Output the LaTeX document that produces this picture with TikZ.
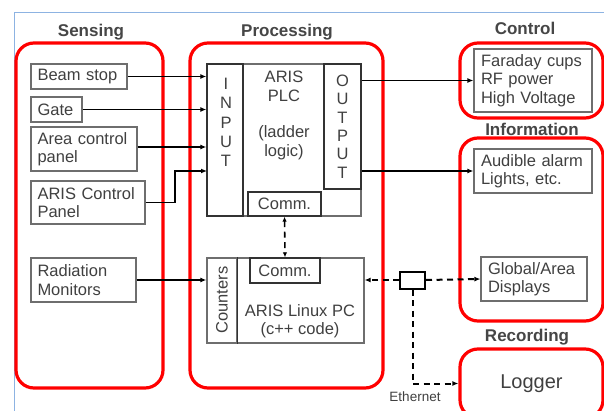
\documentclass[tikz,border=0pt]{standalone}
\usepackage{fontspec}
\setmainfont{Liberation Sans}
\usetikzlibrary{arrows.meta}
\definecolor{framebl}{RGB}{141,179,226}
\definecolor{grpred}{RGB}{255,0,0}
\definecolor{boxgray}{RGB}{110,110,110}
\definecolor{darkbox}{RGB}{50,50,50}
\definecolor{txtgray}{RGB}{64,64,64}
\definecolor{hdrgray}{RGB}{70,70,70}
\begin{document}
\begin{tikzpicture}[x=1pt,y=-1pt,
  redgrp/.style={draw=grpred, line width=3.2pt, rounded corners=18pt, inner sep=0pt},
  hdr/.style={font=\bfseries\fontsize{17}{19}\selectfont, text=hdrgray, inner sep=0pt},
  box/.style={draw=boxgray, line width=1.2pt, text=txtgray, font=\fontsize{16.5}{18.5}\selectfont, inner ysep=0pt, inner xsep=6.5pt, align=left},
  dbox/.style={draw=darkbox, line width=1.4pt, text=txtgray, font=\fontsize{16.5}{18.5}\selectfont, inner sep=0pt, align=center},
  txt/.style={text=txtgray, font=\fontsize{16.5}{18.3}\selectfont, inner sep=0pt, align=center},
  conn/.style={line width=1.8pt, -{Latex[length=6pt,width=5pt]}},
  dconn/.style={line width=2pt, dash pattern=on 6pt off 4.5pt}
]
\useasboundingbox (0,0) rectangle (604,411);
\clip (0,0) rectangle (604,411);
\fill[white] (0,0) rectangle (604,411);
% frame
\draw[framebl, line width=1pt] (14,420) -- (14,13) -- (610,13);

% groups
\node[redgrp, minimum width=147pt, minimum height=345pt] (sensing) at (89.5,215.5) {};
\node[redgrp, minimum width=193pt, minimum height=345pt] (processing) at (286.5,215.5) {};
\node[redgrp, minimum width=143pt, minimum height=75pt] (control) at (531.5,80.5) {};
\node[redgrp, minimum width=143pt, minimum height=183pt] (info) at (531.5,229.5) {};
\node[redgrp, minimum width=143pt, minimum height=69pt, font=\fontsize{20}{22}\selectfont, text=txtgray] (logger) at (531.5,383.5) {Logger};

% headers
\node[hdr] (hsens) at (91,32) {Sensing};
\node[hdr] (hproc) at (287,32) {Processing};
\node[hdr] (hctrl) at (525,28) {Control};
\node[hdr] (hinfo) at (532,129) {Information};
\node[hdr] (hrec) at (527,337) {Recording};

% sensing boxes
\node[box, text width=83pt, minimum height=25pt] (beam) at (79,76.5) {Beam stop};
\node[box, text width=38pt, minimum height=25pt] (gate) at (56.5,109.5) {Gate};
\node[box, text width=93pt, minimum height=44pt] (area) at (84,149) {Area control\\panel};
\node[box, text width=101pt, minimum height=43pt] (ariscp) at (88,202.5) {ARIS Control\\Panel};
\node[box, text width=92pt, minimum height=44pt] (rad) at (83.5,280) {Radiation\\Monitors};

% PLC
\node[draw=boxgray, line width=1.2pt, minimum width=154pt, minimum height=152pt, inner sep=0pt] (plc) at (284,140) {};
\node[dbox, minimum width=36pt, minimum height=152pt] (input) at (225,140) {};
\node[txt, font=\fontsize{16.5}{19.25}\selectfont] (inputtxt) at (226,122.5) {I\\N\\P\\U\\T};
\node[dbox, minimum width=37pt, minimum height=125pt, font=\fontsize{16.5}{18.4}\selectfont] (output) at (342.5,126.5) {O\\U\\T\\P\\U\\T};
\node[dbox, minimum width=73pt, minimum height=24pt] (comm1) at (284.5,204) {Comm.};
\node[txt] (plctxt) at (284,115.5) {ARIS\\PLC\\[18.3pt](ladder\\logic)};

% Linux PC
\node[draw=boxgray, line width=1.2pt, minimum width=157pt, minimum height=85pt, inner sep=0pt] (linux) at (285.5,300.5) {};
\node[dbox, draw=boxgray, minimum width=30pt, minimum height=85pt] (counters) at (222,300.5) {};
\draw[darkbox, line width=1.4pt] (counters.north east) -- (counters.south east);
\node[txt, rotate=90] (counterstxt) at (222,300) {Counters};
\node[dbox, minimum width=70pt, minimum height=25pt] (comm2) at (285,270.5) {Comm.};
\node[txt] (linuxtxt) at (300,320.9) {ARIS Linux PC\\(c++ code)};

% control / info boxes
\node[box, inner xsep=7pt, text width=104pt, minimum height=63pt] (faraday) at (533,80.5) {Faraday cups\\RF power\\High Voltage};
\node[box, inner xsep=7pt, text width=104pt, minimum height=44pt] (audible) at (533,171) {Audible alarm\\Lights, etc.};
\node[box, inner xsep=7pt, text width=92pt, minimum height=44pt] (global) at (534,279) {Global/Area\\Displays};

% ethernet hub
\node[draw=black, line width=2pt, minimum width=25pt, minimum height=17pt, inner sep=0pt] (hub) at (412.5,280) {};
\node[text=txtgray, font=\fontsize{13.5}{15}\selectfont, inner sep=0pt] (ethtxt) at (415,397) {Ethernet};

% connectors
\coordinate (bend4) at (175,202.5);
\coordinate (in4) at (207,171);
\draw[conn] (beam.east) -- (beam.east -| input.west);
\draw[conn] (gate.east) -- (gate.east -| input.west);
\draw[conn] ([yshift=2pt]area.east) -- ([yshift=2pt]area.east -| input.west);
\draw[conn] (ariscp.east) -- (bend4) |- (in4);
\draw[conn] (rad.east) -- (rad.east -| counters.west);
\draw[conn] (output.east |- faraday.west) -- (faraday.west);
\draw[conn] (output.east |- audible.west) -- (audible.west);

\draw[dconn, line width=1.6pt, {Latex[length=5pt,width=4.5pt]}-{Latex[length=5pt,width=4.5pt]}] (comm1.south) -- (comm2.north);
\draw[dconn, -{Latex[length=6pt,width=5pt]}] (hub.west) -- (hub.west -| linux.east);
\draw[dconn, -{Latex[length=6pt,width=5pt]}] (hub.east) -- (global.west);
\draw[dconn, -{Latex[length=6pt,width=5pt]}] (hub.south) |- (logger.west);
\end{tikzpicture}
\end{document}
